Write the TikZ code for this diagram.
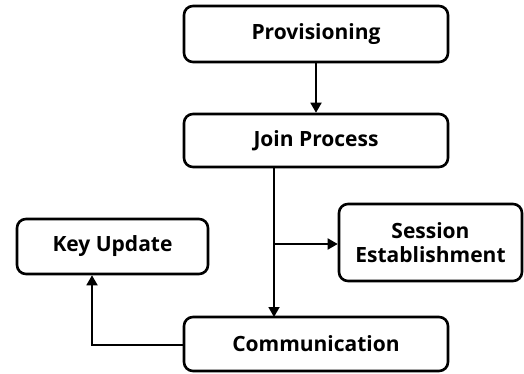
\documentclass[tikz,border=0pt]{standalone}
\usepackage{fontspec}
\setmainfont{Open Sans}
\usetikzlibrary{arrows.meta}
\begin{document}
\begin{tikzpicture}[x=1pt,y=-1pt,
  box/.style={draw, line width=2.6pt, rounded corners=9pt, align=center, font=\bfseries\fontsize{21}{24}\selectfont, inner sep=0pt},
  conn/.style={line width=1.8pt, -{Triangle[length=10pt,width=11pt]}}]
\useasboundingbox (0,0) rectangle (524,374);
\node[box, minimum width=264pt, minimum height=56pt] (prov) at (316,34) {Provisioning};
\node[box, minimum width=264pt, minimum height=53pt] (join) at (316,140.5) {Join Process};
\node[box, minimum width=264pt, minimum height=54pt] (comm) at (316,344) {Communication};
\node[box, minimum width=183pt, minimum height=77pt] (sess) at (430.5,242.5) {Session\\Establishment};
\node[box, minimum width=191pt, minimum height=55pt] (key) at (112.5,246.5) {Key Update};
\draw[conn] (prov.south) -- (join.north);
\coordinate (jb) at (274,167);
\coordinate (ct) at (274,317);
\coordinate (br) at (274,244);
\coordinate (kl) at (92,345);
\draw[conn] (jb) -- (ct);
\draw[conn] (br) -- (sess.west |- br);
\draw[conn] (comm.west |- kl) -- (kl) -- (key.south -| kl);
\end{tikzpicture}
\end{document}
